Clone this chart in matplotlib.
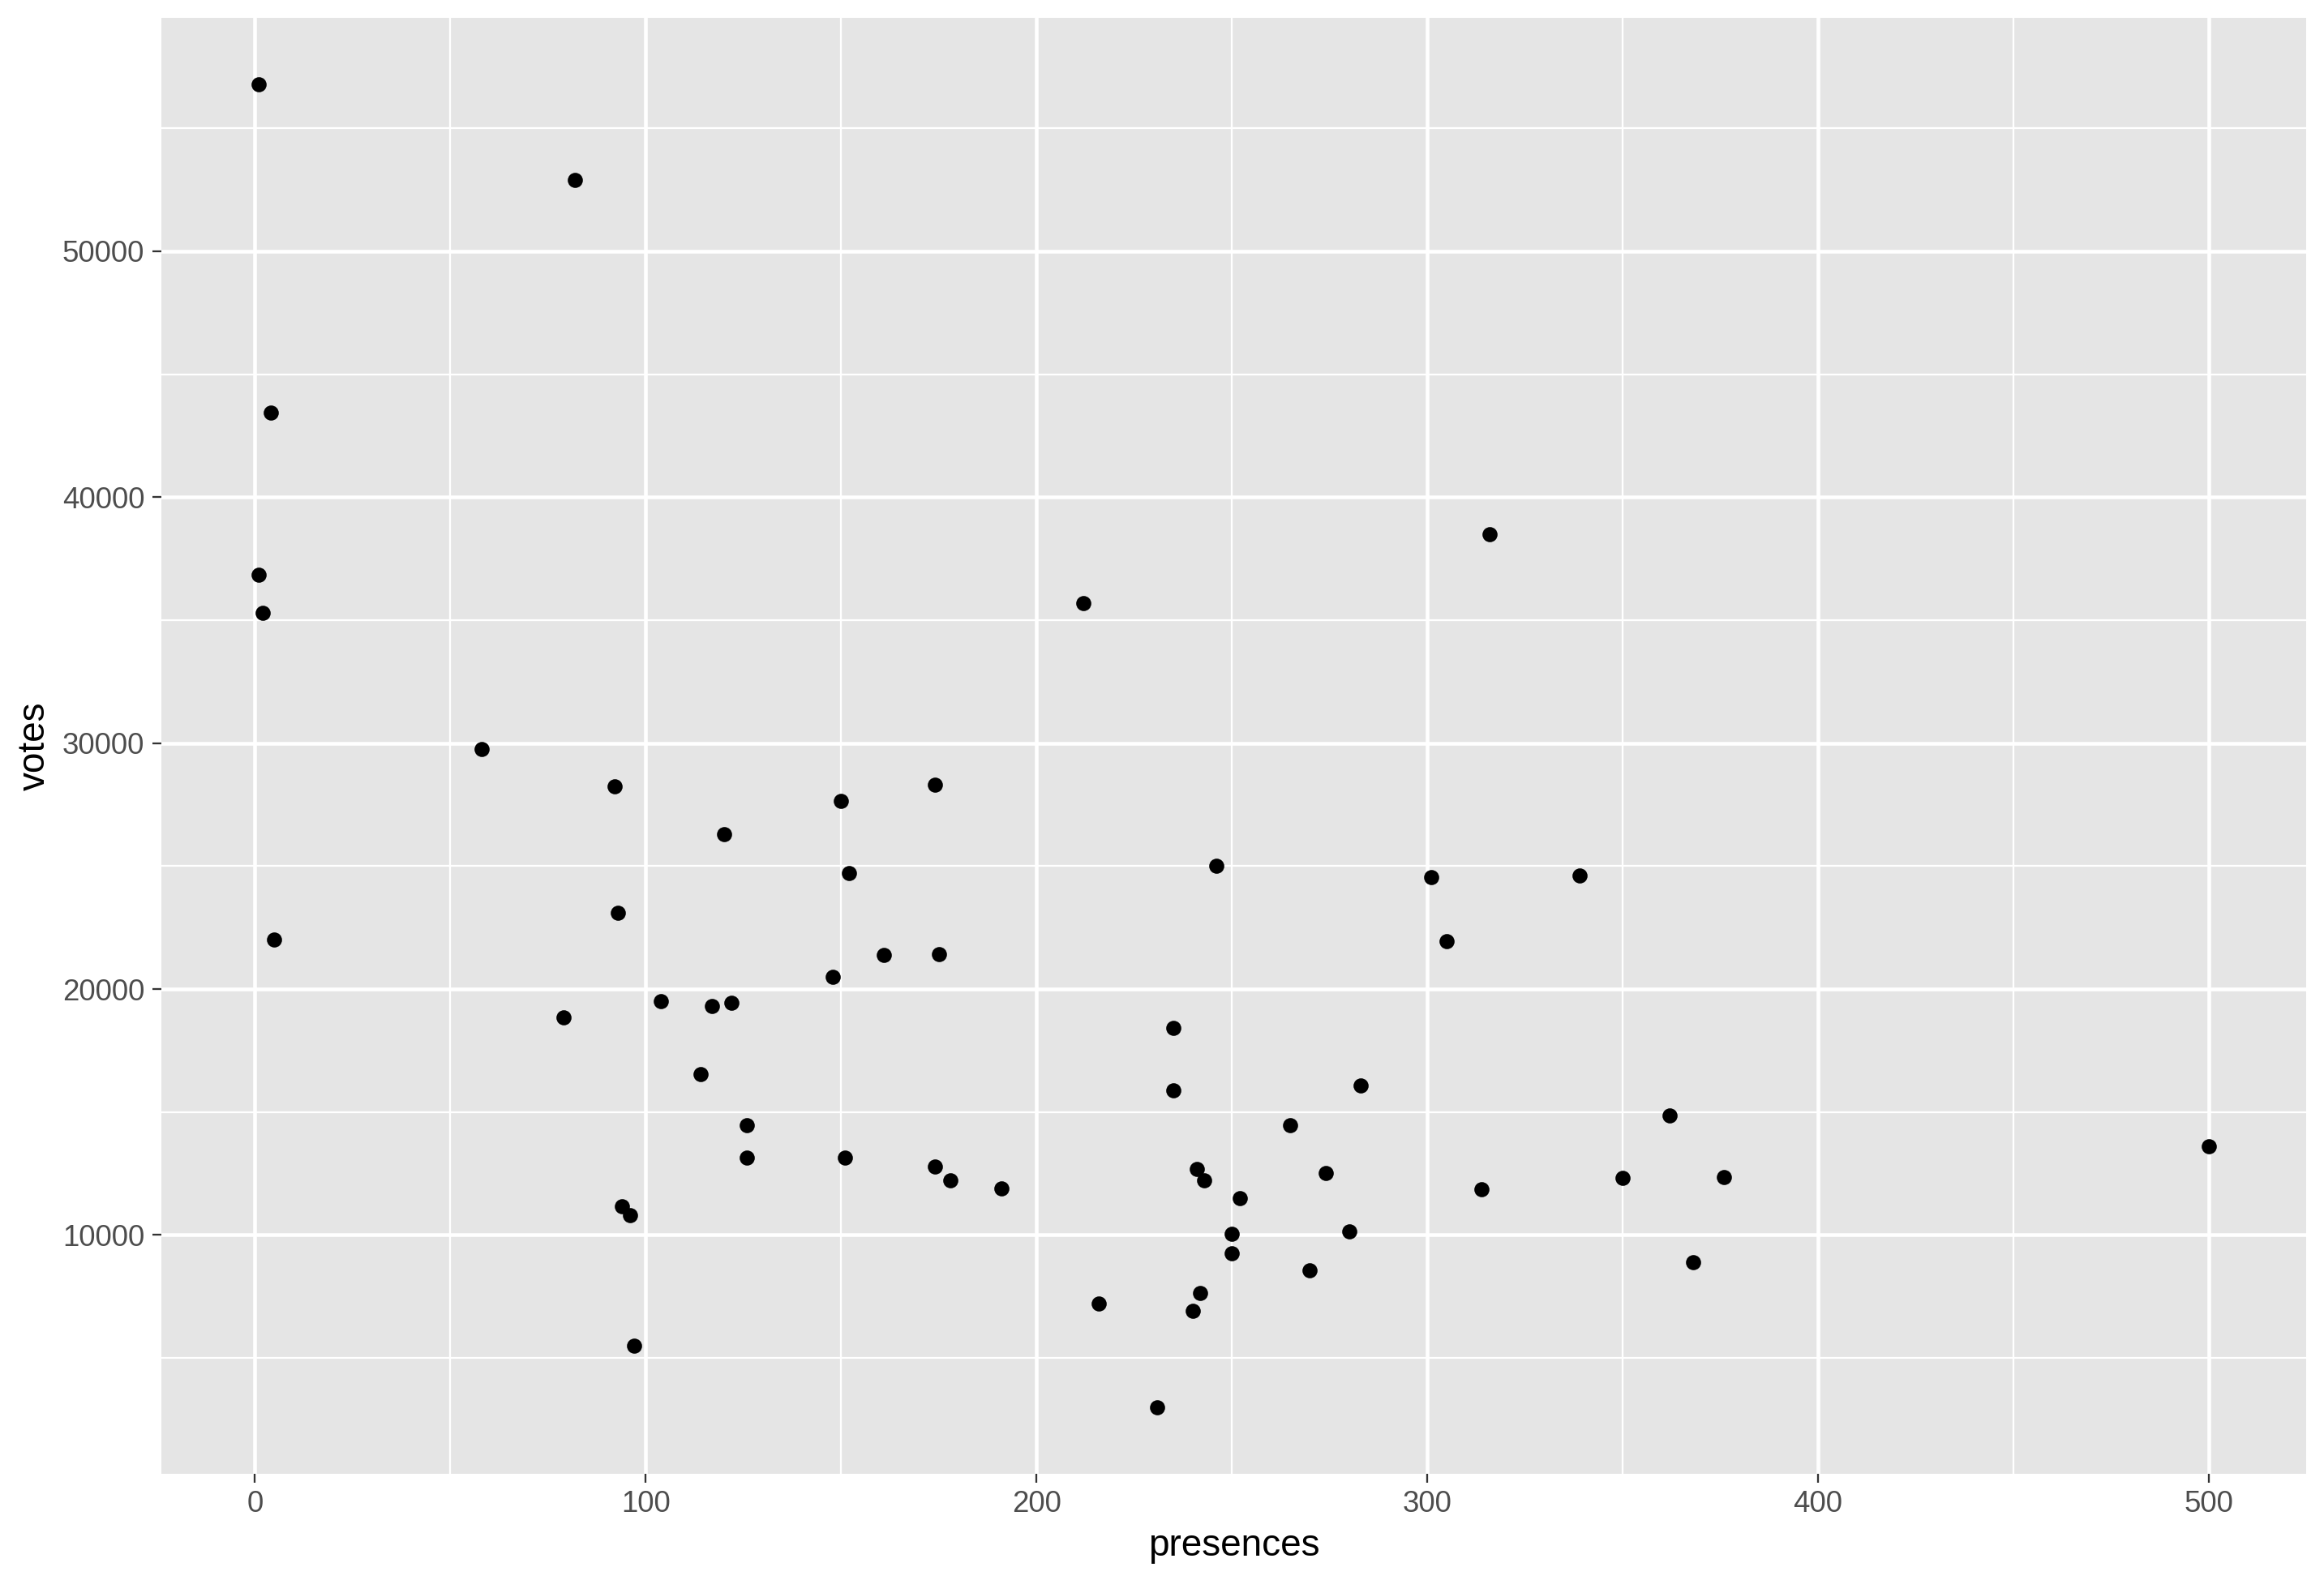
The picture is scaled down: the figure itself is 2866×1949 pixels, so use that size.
import matplotlib
matplotlib.use("Agg")
import matplotlib.pyplot as plt
import numpy as np

# presences / votes
presences = [1, 82, 4, 1, 2, 58, 5, 92, 120, 150, 174, 93, 152, 79, 104, 117, 122, 148,
             161, 175, 114, 126, 126, 151, 174, 178, 191, 94, 96, 97, 212, 316, 246, 301,
             305, 339, 235, 235, 283, 265, 362, 500, 241, 243, 274, 350, 376, 314, 252,
             250, 280, 250, 270, 368, 216, 242, 240, 231]
votes = [56800, 52900, 43450, 36850, 35300, 29750, 22000, 28250, 26300, 27650, 28300,
         23100, 24700, 18850, 19500, 19300, 19450, 20480, 21400, 21430, 16550, 14450,
         13130, 13130, 12770, 12230, 11900, 11150, 10800, 5480, 35700, 38500, 25000,
         24550, 21950, 24620, 18420, 15880, 16080, 14450, 14850, 13600, 12690, 12230,
         12530, 12330, 12340, 11870, 11480, 10050, 10150, 9270, 8550, 8880, 7200, 7650,
         6900, 2990]

x_major = [0, 100, 200, 300, 400, 500]
x_minor = [50, 150, 250, 350, 450]
y_major = [10000, 20000, 30000, 40000, 50000]
y_minor = [5000, 15000, 25000, 35000, 45000, 55000]

plt.rcParams['font.family'] = ['Liberation Sans', 'DejaVu Sans']

fig = plt.figure(figsize=(2866 / 300, 1949 / 300), dpi=300)
ax = fig.add_axes([0.0694, 0.0674, 0.9923 - 0.0694, 0.9887 - 0.0674])
ax.set_facecolor('#E5E5E5')

ax.scatter(presences, votes, s=20, color='black', linewidths=0, zorder=3)

# ggplot-like expansion of 5% on each side
def expand(v):
    lo, hi = min(v), max(v)
    pad = (hi - lo) * 0.05
    return lo - pad, hi + pad

ax.set_xlim(*expand(presences))
ax.set_ylim(*expand(votes))

ax.set_xticks(x_major)
ax.set_yticks(y_major)
ax.set_xticks(x_minor, minor=True)
ax.set_yticks(y_minor, minor=True)
ax.grid(which='major', color='white', linewidth=1.1)
ax.grid(which='minor', color='white', linewidth=0.55)
ax.set_axisbelow(True)

for s in ax.spines.values():
    s.set_visible(False)

ax.tick_params(which='major', length=2.75, width=0.55, color='#333333',
               labelsize=8.8, labelcolor='#4D4D4D', pad=2.2)
ax.tick_params(which='minor', length=0)

ax.set_xlabel('presences', fontsize=11, labelpad=2.75)
ax.set_ylabel('votes', fontsize=11, labelpad=2.75)

fig.savefig('out.png', dpi=300)
